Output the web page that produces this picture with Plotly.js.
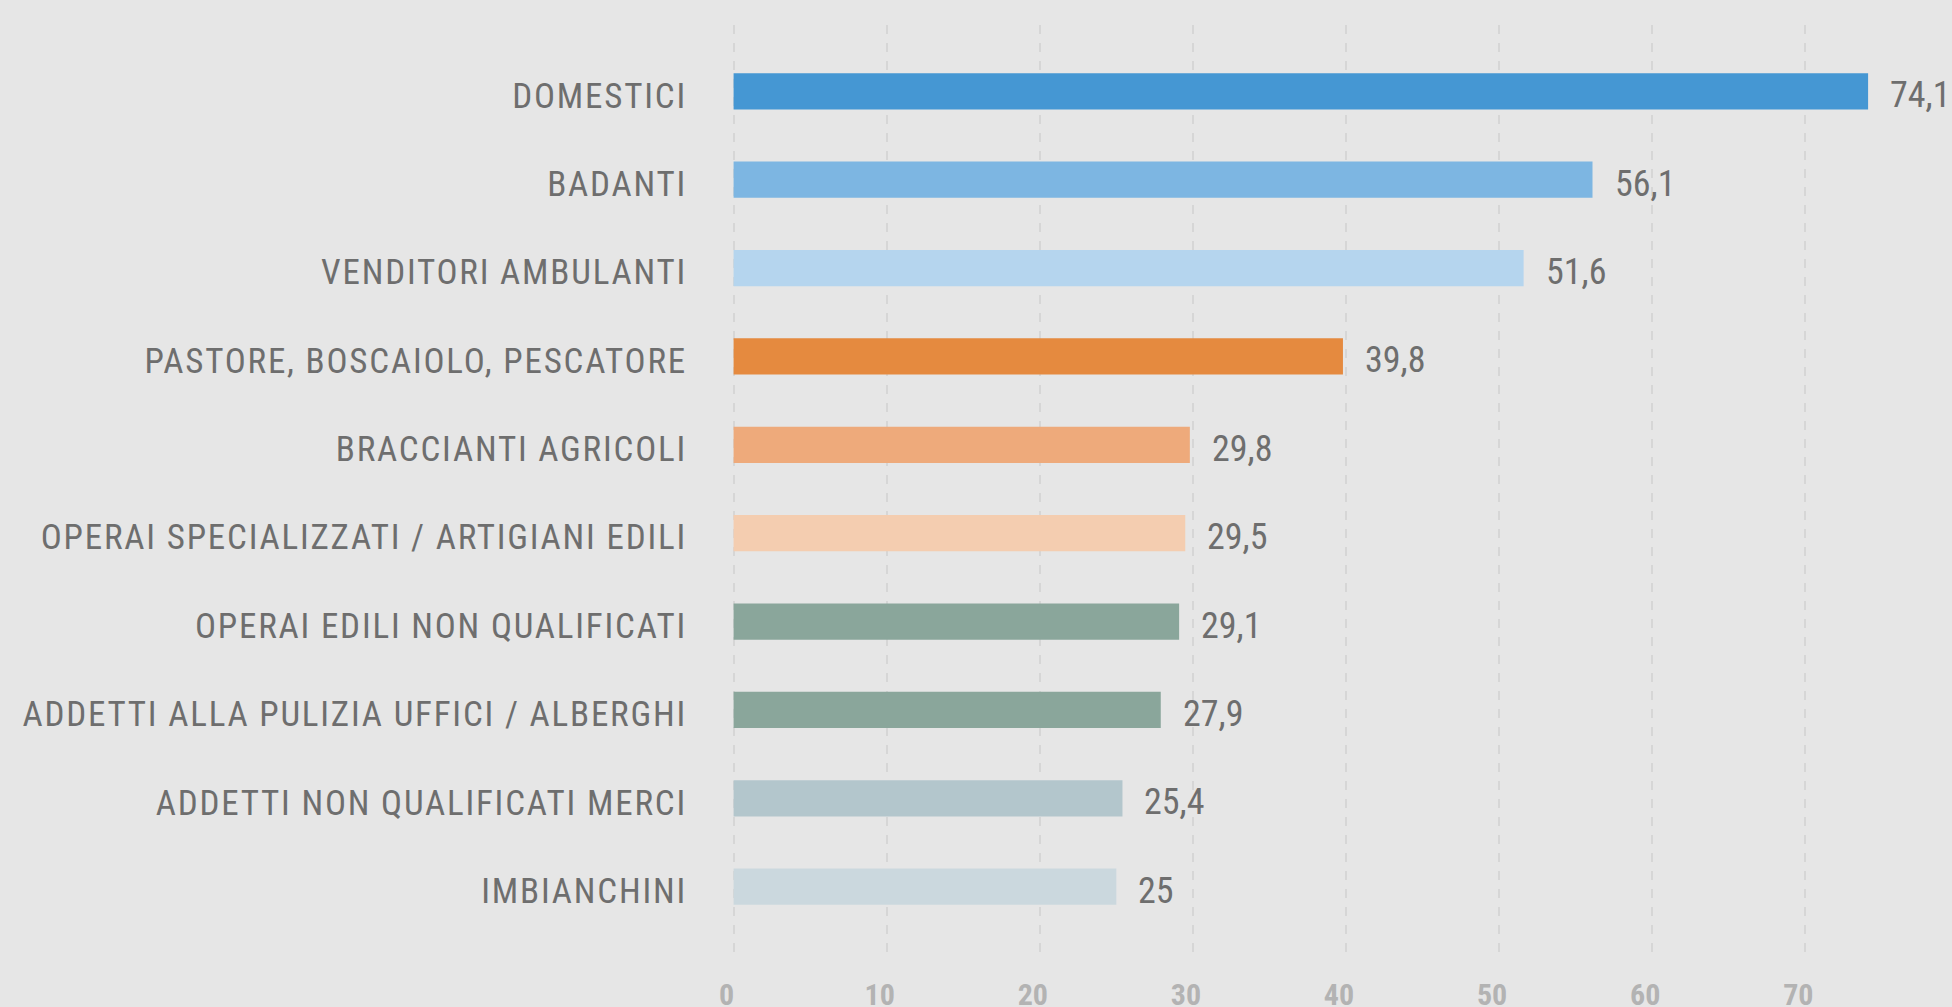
<!DOCTYPE html>
<html>
<head>
<meta charset="utf-8">
<script src="https://cdn.plot.ly/plotly-3.0.1.min.js"></script>
<style>
  html, body { margin: 0; padding: 0; background: #e6e6e6; }
  #chart { width: 1952px; height: 1007px; }
  #chart .ytick text { letter-spacing: 1.8px; }
</style>
</head>
<body>
<div id="chart"></div>
<script>
const categories = [
  "DOMESTICI",
  "BADANTI",
  "VENDITORI AMBULANTI",
  "PASTORE, BOSCAIOLO, PESCATORE",
  "BRACCIANTI AGRICOLI",
  "OPERAI SPECIALIZZATI / ARTIGIANI EDILI",
  "OPERAI EDILI NON QUALIFICATI",
  "ADDETTI ALLA PULIZIA UFFICI / ALBERGHI",
  "ADDETTI NON QUALIFICATI MERCI",
  "IMBIANCHINI"
];
const values = [74.1, 56.1, 51.6, 39.8, 29.8, 29.5, 29.1, 27.9, 25.4, 25];
const valueLabels = ["74,1", "56,1", "51,6", "39,8", "29,8", "29,5", "29,1", "27,9", "25,4", "25"];
const barColors = ["#4597d3", "#7db6e2", "#b5d5ee", "#e58a3f", "#eeaa7b", "#f4cdb0", "#8aa69b", "#8aa69b", "#b3c6cc", "#cbd8de"];
const xTicks = [0, 10, 20, 30, 40, 50, 60, 70];

const FONT = "'Roboto Condensed', 'Liberation Sans Narrow', 'DejaVu Sans Condensed', sans-serif";
const TEXT_COLOR = "#6e6e6e";

const trace = {
  type: "bar",
  orientation: "h",
  x: values,
  y: categories,
  marker: { color: barColors, line: { width: 0 } },
  hoverinfo: "none"
};

const annotations = values.map((v, i) => ({
  x: v,
  y: categories[i],
  xref: "x",
  yref: "y",
  text: valueLabels[i],
  showarrow: false,
  xanchor: "left",
  yanchor: "middle",
  xshift: 20,
  yshift: -4,
  font: { family: FONT, size: 36, color: TEXT_COLOR }
}));

const layout = {
  width: 1952,
  height: 1007,
  margin: { l: 729, r: 0, t: 25, b: 54 },
  paper_bgcolor: "#e6e6e6",
  plot_bgcolor: "#e6e6e6",
  showlegend: false,
  bargap: 0.59,
  xaxis: {
    range: [-0.3, 79.58],
    tickvals: xTicks,
    ticktext: xTicks.map(String),
    showgrid: true,
    gridcolor: "#d6d6d6",
    gridwidth: 2,
    griddash: "dash",
    zeroline: false,
    showline: false,
    ticks: "",
    ticklabelstandoff: 21,
    ticklabelshift: -7,
    tickfont: { family: FONT, size: 30, color: "#b3b3b3", weight: "bold" },
    fixedrange: true
  },
  yaxis: {
    type: "category",
    categoryorder: "array",
    categoryarray: categories,
    range: [9.75, -0.75],
    showgrid: false,
    zeroline: false,
    showline: false,
    ticks: "",
    ticklabelstandoff: 41,
    ticklabelshift: -4,
    tickfont: { family: FONT, size: 35, color: TEXT_COLOR },
    fixedrange: true
  },
  annotations: annotations
};

Plotly.newPlot("chart", [trace], layout, { displayModeBar: false, staticPlot: true });
</script>
</body>
</html>
